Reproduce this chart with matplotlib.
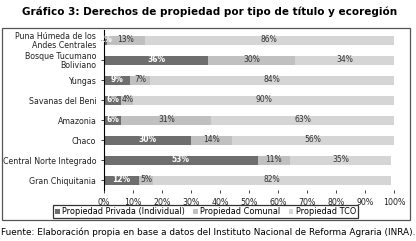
import matplotlib.pyplot as plt
import matplotlib.patches as mpatches
import numpy as np

regions = ['Puna Húmeda de los\nAndes Centrales', 'Bosque Tucumano\nBoliviano', 'Yungas',
           'Savanas del Beni', 'Amazonia', 'Chaco', 'Central Norte Integrado', 'Gran Chiquitania']
privada = [1, 36, 9, 6, 6, 30, 53, 12]
comunal = [13, 30, 7, 4, 31, 14, 11, 5]
tco = [86, 34, 84, 90, 63, 56, 35, 82]
series_names = ['Propiedad Privada (Individual)', 'Propiedad Comunal', 'Propiedad TCO']
colors = ['#6e6e6e', '#c0c0c0', '#d5d5d5']

W, H = 416, 241
fig = plt.figure(figsize=(4.16, 2.41), dpi=100)
# axes in pixel terms: x 104..394, y 30..190
ax = fig.add_axes([104 / W, 1 - 190 / H, 290 / W, 160 / H])

y = np.arange(len(regions))
left = np.zeros(len(regions))
for vals, name, c in zip([privada, comunal, tco], series_names, colors):
    ax.barh(y, vals, left=left, height=0.45, color=c, label=name)
    for yi, l, v in zip(y, left, vals):
        if c == colors[0]:
            ax.text(l + v / 2, yi, f'{v}%', ha='center', va='center', fontsize=5.5,
                    color='white', fontweight='bold')
        else:
            ax.text(l + v / 2, yi, f'{v}%', ha='center', va='center', fontsize=5.5,
                    color='#333333')
    left += np.array(vals)

ax.set_ylim(len(regions) - 0.5, -0.5)
ax.set_xlim(0, 100)
ax.set_yticks(y)
ax.set_yticklabels(regions, fontsize=5.7, linespacing=0.95)
ax.set_xticks(np.arange(0, 101, 10))
ax.set_xticklabels([f'{v}%' for v in range(0, 101, 10)], fontsize=5.7)
ax.tick_params(length=2.5, width=0.6, colors='#222222', pad=3)
for s in ['top', 'right', 'bottom']:
    ax.spines[s].set_visible(False)
ax.spines['left'].set_linewidth(0.8)

leg = fig.legend(*ax.get_legend_handles_labels(), loc='center',
                 bbox_to_anchor=(205.5 / W, 1 - 211.5 / H), ncol=3, fontsize=5.9,
                 frameon=True, fancybox=False, edgecolor='black', handlelength=0.6,
                 handleheight=0.6, handletextpad=0.25, columnspacing=1.0, borderpad=0.25)
leg.get_frame().set_linewidth(0.9)

fig.patches.append(mpatches.Rectangle((2 / W, 1 - 220 / H), 408 / W, 192 / H,
                                      transform=fig.transFigure, fill=False,
                                      edgecolor='#555555', linewidth=0.9))
fig.text(210 / W, 1 - 12 / H, 'Gráfico 3: Derechos de propiedad por tipo de título y ecoregión',
         ha='center', va='center', fontsize=7.5, fontweight='bold')
fig.text(0.5, 1 - 232 / H,
         'Fuente: Elaboración propia en base a datos del Instituto Nacional de Reforma Agraria (INRA).',
         ha='center', va='center', fontsize=6.4)

fig.savefig('out.png', dpi=100)
